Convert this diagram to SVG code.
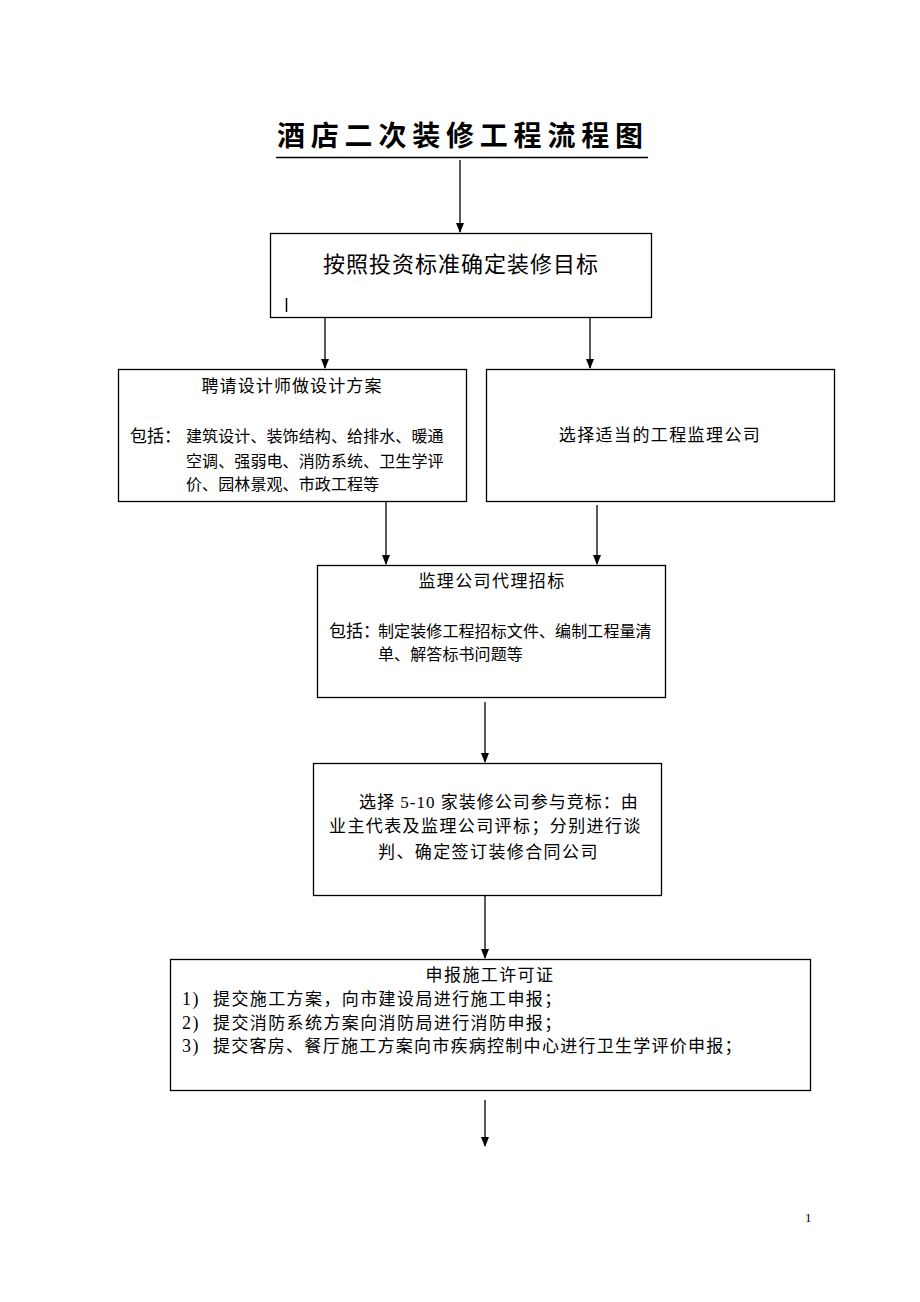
<svg xmlns="http://www.w3.org/2000/svg" width="920" height="1302" viewBox="0 0 920 1302">
<style>
.box{fill:#fff;stroke:#000;stroke-width:1.3}
.t{font-family:"Liberation Serif","Noto Sans CJK SC",serif;fill:#000;font-size:17px;letter-spacing:1.4px}
.c{stroke:#000;stroke-width:1.3;fill:none}
</style>
<defs>
<marker id="ah" markerWidth="10" markerHeight="10" refX="9" refY="5" orient="auto" markerUnits="userSpaceOnUse">
<path d="M0,1 L10,5 L0,9 Z" fill="#000"/>
</marker>
</defs>
<rect width="920" height="1302" fill="#fff"/>
<g id="title">
<text x="277" y="146" textLength="366" lengthAdjust="spacing" style="font-family:'Noto Sans CJK SC',sans-serif;font-weight:bold;font-size:28px;fill:#000">酒店二次装修工程流程图</text>
<line x1="276" y1="157.5" x2="648" y2="157.5" stroke="#000" stroke-width="1.5"/>
</g>
<g id="connectors">
<line class="c" x1="460" y1="160" x2="460" y2="232" marker-end="url(#ah)"/>
<line class="c" x1="325" y1="318" x2="325" y2="368" marker-end="url(#ah)"/>
<line class="c" x1="590" y1="318" x2="590" y2="368" marker-end="url(#ah)"/>
<line class="c" x1="386" y1="502" x2="386" y2="564" marker-end="url(#ah)"/>
<line class="c" x1="597" y1="505" x2="597" y2="564" marker-end="url(#ah)"/>
<line class="c" x1="485" y1="702" x2="485" y2="762" marker-end="url(#ah)"/>
<line class="c" x1="485" y1="895" x2="485" y2="958" marker-end="url(#ah)"/>
<line class="c" x1="485" y1="1100" x2="485" y2="1146" marker-end="url(#ah)"/>
</g>
<g id="n1">
<rect class="box" x="270.5" y="233.5" width="381" height="84"/>
<text class="t" x="461" y="272" text-anchor="middle" style="font-size:22px;letter-spacing:1px">按照投资标准确定装修目标</text>
<line x1="286.5" y1="298" x2="286.5" y2="312" stroke="#000" stroke-width="1.5"/>
</g>
<g id="n2">
<rect class="box" x="118.5" y="369.5" width="348" height="132"/>
<text class="t" x="292" y="392" text-anchor="middle" style="letter-spacing:1.1px">聘请设计师做设计方案</text>
<text class="t" x="130" y="442" style="letter-spacing:0">包括：</text>
<text class="t" x="186" y="442" style="font-size:16px;letter-spacing:0.1px">建筑设计、装饰结构、给排水、暖通</text>
<text class="t" x="186" y="467" style="font-size:16px;letter-spacing:0.1px">空调、强弱电、消防系统、卫生学评</text>
<text class="t" x="186" y="490" style="font-size:16px;letter-spacing:0.1px">价、园林景观、市政工程等</text>
</g>
<g id="n3">
<rect class="box" x="486.5" y="369.5" width="348" height="132"/>
<text class="t" x="660" y="441" text-anchor="middle">选择适当的工程监理公司</text>
</g>
<g id="n4">
<rect class="box" x="317.5" y="565.5" width="348" height="132"/>
<text class="t" x="492" y="587" text-anchor="middle">监理公司代理招标</text>
<text class="t" x="329" y="637" style="letter-spacing:0">包括：</text>
<text class="t" x="378" y="637" style="font-size:16px;letter-spacing:0.1px">制定装修工程招标文件、编制工程量清</text>
<text class="t" x="378" y="660" style="font-size:16px;letter-spacing:0.1px">单、解答标书问题等</text>
</g>
<g id="n5">
<rect class="box" x="313.5" y="763.5" width="348" height="132"/>
<text class="t" x="359" y="808" style="letter-spacing:1px">选择 5-10 家装修公司参与竞标：由</text>
<text class="t" x="329" y="832">业主代表及监理公司评标；分别进行谈</text>
<text class="t" x="378" y="858">判、确定签订装修合同公司</text>
</g>
<g id="n6">
<rect class="box" x="170.5" y="959.5" width="640" height="131"/>
<text class="t" x="490" y="981" text-anchor="middle">申报施工许可证</text>
<text class="t" x="182" y="1005" style="font-size:18px">1)</text>
<text class="t" x="213" y="1005">提交施工方案，向市建设局进行施工申报；</text>
<text class="t" x="182" y="1029" style="font-size:18px">2)</text>
<text class="t" x="213" y="1029">提交消防系统方案向消防局进行消防申报；</text>
<text class="t" x="182" y="1052" style="font-size:18px">3)</text>
<text class="t" x="213" y="1052" textLength="530" lengthAdjust="spacing">提交客房、餐厅施工方案向市疾病控制中心进行卫生学评价申报；</text>
</g>
<text x="805" y="1222" style="font-family:'Liberation Serif',serif;font-size:13px;fill:#000">1</text>
</svg>
